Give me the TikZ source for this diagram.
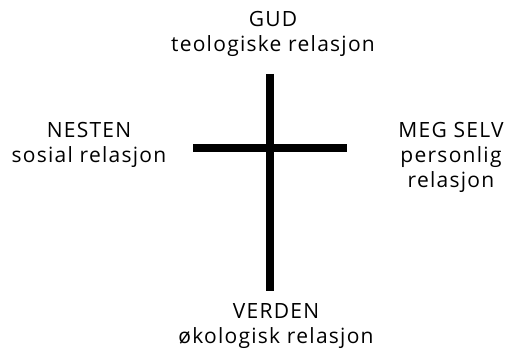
\documentclass[tikz,border=0pt]{standalone}
\usepackage{fontspec}
\setmainfont{Open Sans}
\newfontfamily\relfont[LetterSpace=6]{Open Sans}
\begin{document}
\begin{tikzpicture}[x=1pt, y=1pt, line cap=butt]
\tikzset{label/.style={align=center, anchor=base, inner sep=0pt, font=\relfont\fontsize{21}{25}\selectfont}}
\useasboundingbox (0,0) rectangle (513,361);
% the cross
\coordinate (top) at (270,287);
\coordinate (foot) at (270,70);
\coordinate (left) at (193,213);
\coordinate (right) at (347,213);
\draw[line width=8pt] (top) -- (foot);
\draw[line width=8pt] (left) -- (right);
% the four relations
\node[label] (gud) at (273,309) {GUD\\teologiske relasjon};
\node[label] (nesten) at (89,198) {NESTEN\\sosial relasjon};
\node[label] (megselv) at (451,173) {MEG SELV\\personlig\\relasjon};
\node[label] (verden) at (276,18) {VERDEN\\økologisk relasjon};
\end{tikzpicture}
\end{document}
